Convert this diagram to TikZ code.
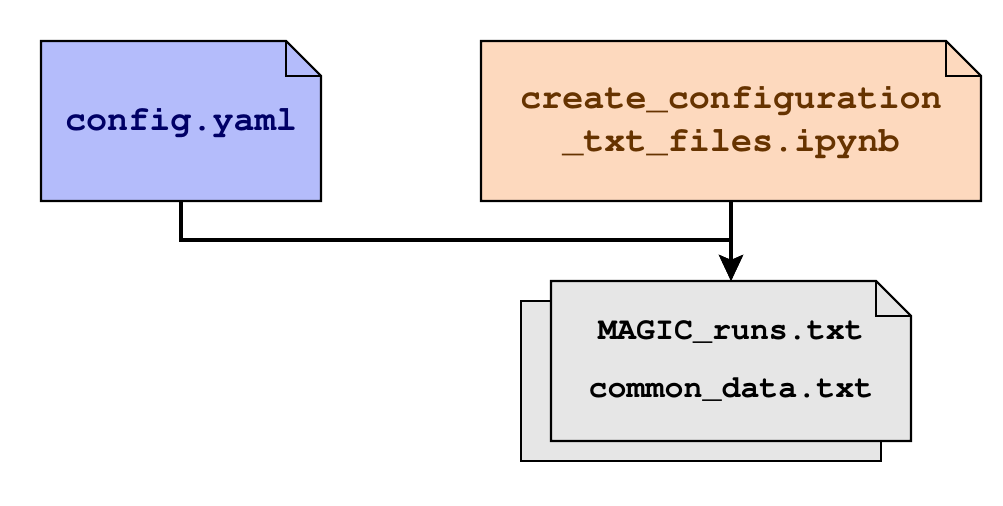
\documentclass[tikz,border=0pt]{standalone}
\usepackage[T1]{fontenc}
\usepackage{tikz}
\usetikzlibrary{arrows.meta,positioning,backgrounds}

\definecolor{cfgfill}{RGB}{180,188,251}
\definecolor{cfgtext}{RGB}{0,0,102}
\definecolor{nbfill}{RGB}{253,217,190}
\definecolor{nbtext}{RGB}{102,51,0}
\definecolor{outfill}{RGB}{230,230,230}

\def\fold{0.35}
% folded-corner outline behind a node
\newcommand{\dogear}[2]{%
  \filldraw[fill=#2, line width=0.6pt]
    (#1.south west) -- (#1.north west) -- ([xshift=-\fold cm]#1.north east)
    -- ([yshift=-\fold cm]#1.north east) -- (#1.south east) -- cycle;
  \draw[line width=0.6pt] ([xshift=-\fold cm]#1.north east) |- ([yshift=-\fold cm]#1.north east);
}

\begin{document}
\begin{tikzpicture}[
  file/.style={
    minimum height=1.6cm, inner sep=0pt, outer sep=0pt, align=center,
    font=\fontfamily{pcr}\bfseries\fontsize{10}{12.2}\selectfont
  },
  arr/.style={-{Stealth[length=2.6mm,width=2.4mm,inset=0.5mm]}, line width=1.1pt}
]
\useasboundingbox (0,0) rectangle (10.03,-5.06);

\node[file, minimum width=2.8cm, text=cfgtext] (cfg) at (1.81,-1.21) {config.yaml};
\node[file, minimum width=5.0cm, text=nbtext] (nb) at (7.31,-1.21)
  {create\_configuration\\\_txt\_files.ipynb};
\node[file, minimum width=3.6cm, text=black,
  font=\fontfamily{pcr}\bfseries\fontsize{9}{16.4}\selectfont] (out) at (7.31,-3.61)
  {MAGIC\_runs.txt\\common\_data.txt};

\begin{scope}[on background layer]
  \filldraw[fill=outfill, line width=0.6pt]
    ([shift={(-0.3,-0.2)}]out.south west) rectangle ([shift={(-0.3,-0.2)}]out.north east);
  \dogear{cfg}{cfgfill}
  \dogear{nb}{nbfill}
  \dogear{out}{outfill}
\end{scope}

\draw[arr] (cfg.south) -- ++(0,-0.39) -| (out.north);
\draw[arr] (nb.south) -- (out.north);
\end{tikzpicture}
\end{document}
